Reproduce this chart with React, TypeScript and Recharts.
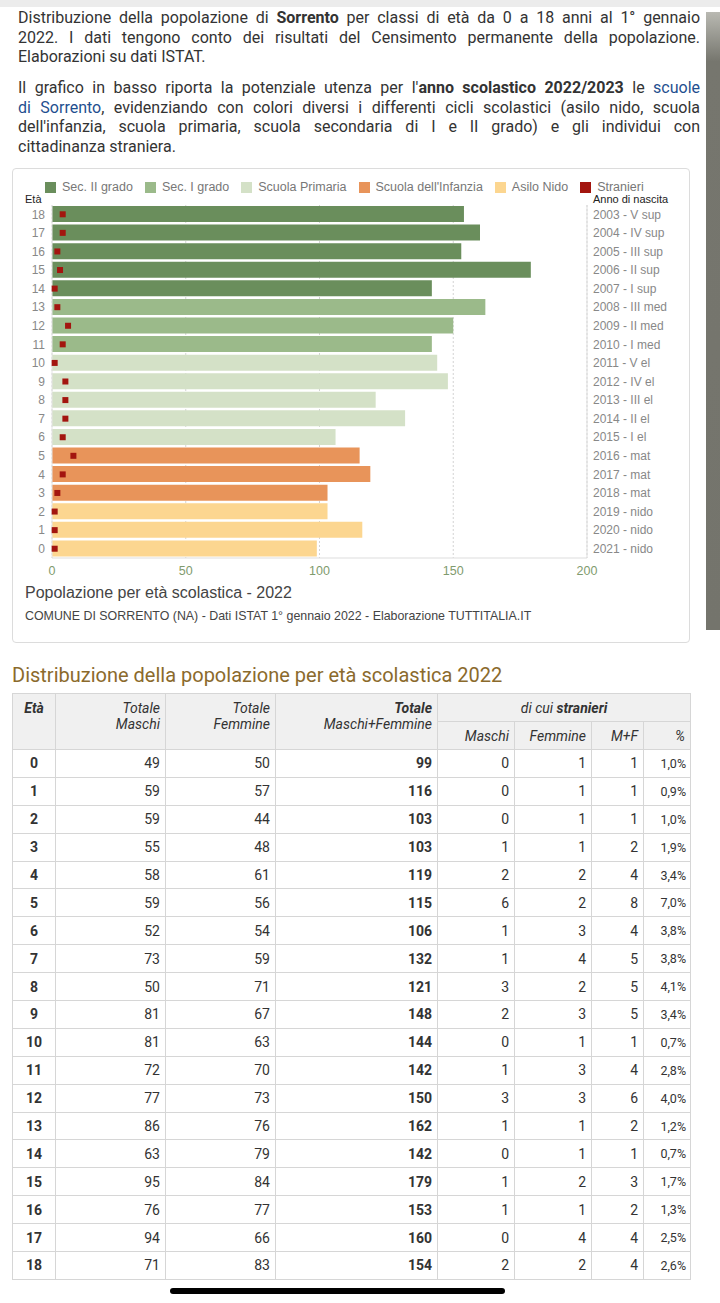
import React from "react";
import { ComposedChart, Bar, Line, XAxis, YAxis, CartesianGrid, Cell } from "recharts";

// età 0..18
const ages = [0, 1, 2, 3, 4, 5, 6, 7, 8, 9, 10, 11, 12, 13, 14, 15, 16, 17, 18];
const maschi = [49, 59, 59, 55, 58, 59, 52, 73, 50, 81, 81, 72, 77, 86, 63, 95, 76, 94, 71];
const femmine = [50, 57, 44, 48, 61, 56, 54, 59, 71, 67, 63, 70, 73, 76, 79, 84, 77, 66, 83];
const totale = [99, 116, 103, 103, 119, 115, 106, 132, 121, 148, 144, 142, 150, 162, 142, 179, 153, 160, 154];
const strMaschi = [0, 0, 0, 1, 2, 6, 1, 1, 3, 2, 0, 1, 3, 1, 0, 1, 1, 0, 2];
const strFemmine = [1, 1, 1, 1, 2, 2, 3, 4, 2, 3, 1, 3, 3, 1, 1, 2, 1, 4, 2];
const strTotale = [1, 1, 1, 2, 4, 8, 4, 5, 5, 5, 1, 4, 6, 2, 1, 3, 2, 4, 4];
const strPerc = ["1,0%", "0,9%", "1,0%", "1,9%", "3,4%", "7,0%", "3,8%", "3,8%", "4,1%", "3,4%", "0,7%", "2,8%", "4,0%", "1,2%", "0,7%", "1,7%", "1,3%", "2,5%", "2,6%"];

const birthYears = [2021, 2020, 2019, 2018, 2017, 2016, 2015, 2014, 2013, 2012, 2011, 2010, 2009, 2008, 2007, 2006, 2005, 2004, 2003];
const classi = ["nido", "nido", "nido", "mat", "mat", "mat", "I el", "II el", "III el", "IV el", "V el", "I med", "II med", "III med", "I sup", "II sup", "III sup", "IV sup", "V sup"];
const cicli = ["nido", "nido", "nido", "infanzia", "infanzia", "infanzia", "primaria", "primaria", "primaria", "primaria", "primaria", "sec1", "sec1", "sec1", "sec2", "sec2", "sec2", "sec2", "sec2"];

const xTicks = [0, 50, 100, 150, 200];

const colors: Record<string, string> = {
  sec2: "#6a8e5c",
  sec1: "#9bba8a",
  primaria: "#d4e1c7",
  infanzia: "#e8945a",
  nido: "#fcd690",
  stranieri: "#a3150f",
};

const legendItems = [
  { key: "sec2", label: "Sec. II grado" },
  { key: "sec1", label: "Sec. I grado" },
  { key: "primaria", label: "Scuola Primaria" },
  { key: "infanzia", label: "Scuola dell'Infanzia" },
  { key: "nido", label: "Asilo Nido" },
  { key: "stranieri", label: "Stranieri" },
];

const chartData = ages.map((a, i) => ({
  age: a,
  totale: totale[i],
  stranieri: strTotale[i],
  ciclo: cicli[i],
}));

const Square = (props: any) => {
  const { cx, cy, index } = props;
  if (cx == null || cy == null) return <g key={index} />;
  return <rect key={index} x={cx - 3} y={cy - 3} width={6} height={6} fill={colors.stranieri} />;
};

const pText: React.CSSProperties = {
  position: "absolute",
  left: 18,
  width: 682,
  fontFamily: "Roboto, 'Liberation Sans', sans-serif",
  fontSize: 16,
  lineHeight: "19.6px",
  color: "#333",
};
const just: React.CSSProperties = { textAlign: "justify", textAlignLast: "justify", whiteSpace: "nowrap" };
const link: React.CSSProperties = { color: "#1f4f8f" };

const border = "1px solid #d6d6d6";
const th: React.CSSProperties = {
  border,
  background: "#f0f0f0",
  fontStyle: "italic",
  fontWeight: "normal",
  fontSize: 14,
  color: "#333",
  padding: "0 5px",
  lineHeight: "16px",
};
const td: React.CSSProperties = {
  border,
  fontSize: 14,
  color: "#333",
  padding: "0 5px",
  textAlign: "right",
  height: 27.9,
  boxSizing: "border-box",
};

export default function App() {
  return (
    <div style={{ position: "absolute", left: 0, top: 0, width: 720, height: 1303, background: "#fff", overflow: "hidden" }}>
      {/* barra grigia in alto e scrollbar */}
      <div style={{ position: "absolute", left: 0, top: 0, width: 720, height: 7, background: "#ececec" }} />
      <div style={{ position: "absolute", left: 706, top: 12, width: 14, height: 618, background: "linear-gradient(#b9b9b2, #76766e 8%, #74746c)" }} />

      <div style={{ ...pText, top: 8 }}>
        <div style={just}>
          Distribuzione della popolazione di <b>Sorrento</b> per classi di età da 0 a 18 anni al 1° gennaio
        </div>
        <div style={just}>2022. I dati tengono conto dei risultati del Censimento permanente della popolazione.</div>
        <div>Elaborazioni su dati ISTAT.</div>
      </div>
      <div style={{ ...pText, top: 78 }}>
        <div style={just}>
          Il grafico in basso riporta la potenziale utenza per l'<b>anno scolastico 2022/2023</b> le <span style={link}>scuole</span>
        </div>
        <div style={just}>
          <span style={link}>di Sorrento</span>, evidenziando con colori diversi i differenti cicli scolastici (asilo nido, scuola
        </div>
        <div style={just}>dell'infanzia, scuola primaria, scuola secondaria di I e II grado) e gli individui con</div>
        <div>cittadinanza straniera.</div>
      </div>

      {/* riquadro grafico */}
      <div style={{ position: "absolute", left: 12, top: 168, width: 676, height: 473, border: "1px solid #dcdcdc", borderRadius: 4 }} />

      <div style={{ position: "absolute", left: 45, top: 180, display: "flex", gap: 12, fontFamily: "'Liberation Sans', Arial, sans-serif", fontSize: 12.5, color: "#777", whiteSpace: "nowrap" }}>
        {legendItems.map((it) => (
          <div key={it.key} style={{ display: "flex", alignItems: "center", gap: 6, height: 14 }}>
            <span style={{ width: 11, height: 11, background: colors[it.key], display: "inline-block" }} />
            <span>{it.label}</span>
          </div>
        ))}
      </div>

      <div style={{ position: "absolute", left: 25, top: 193, fontFamily: "'Liberation Sans', Arial, sans-serif", fontSize: 11, color: "#222" }}>Età</div>
      <div style={{ position: "absolute", left: 593, top: 193, fontFamily: "'Liberation Sans', Arial, sans-serif", fontSize: 11, color: "#222" }}>Anno di nascita</div>

      <div style={{ position: "absolute", left: 0, top: 160, fontFamily: "'Liberation Sans', Arial, sans-serif" }}>
        <ComposedChart layout="vertical" width={700} height={430} data={chartData} margin={{ top: 45, right: 13, bottom: 2, left: 0 }}>
          <CartesianGrid horizontal={false} strokeDasharray="2 2" stroke="#d3d3d3" />
          <XAxis
            type="number"
            domain={[0, 200]}
            ticks={xTicks}
            height={30}
            axisLine={{ stroke: "#dddddd" }}
            tickLine={false}
            tick={{ fill: "#7f9b6e", fontSize: 12.5 }}
          />
          <YAxis
            type="category"
            dataKey="age"
            reversed
            interval={0}
            width={52}
            axisLine={{ stroke: "#e4e4e4" }}
            tickLine={false}
            tickSize={5}
            tick={{ fill: "#888", fontSize: 12 }}
          />
          <YAxis
            yAxisId="right"
            orientation="right"
            type="category"
            dataKey="age"
            reversed
            interval={0}
            width={100}
            axisLine={{ stroke: "#dddddd" }}
            tickLine={false}
            tickSize={4}
            tick={{ fill: "#888", fontSize: 12 }}
            tickFormatter={(v: number) => `${birthYears[v]} - ${classi[v]}`}
          />
          <Bar dataKey="totale" barSize={16} isAnimationActive={false}>
            {chartData.map((d) => (
              <Cell key={d.age} fill={colors[d.ciclo]} />
            ))}
          </Bar>
          <Line
            yAxisId="right"
            dataKey="stranieri"
            stroke="none"
            dot={Square}
            activeDot={false}
            isAnimationActive={false}
          />
        </ComposedChart>
      </div>

      <div style={{ position: "absolute", left: 25, top: 584, fontFamily: "'Liberation Sans', Arial, sans-serif", fontSize: 16, color: "#444" }}>
        Popolazione per età scolastica - 2022
      </div>
      <div style={{ position: "absolute", left: 25, top: 609, fontFamily: "'Liberation Sans', Arial, sans-serif", fontSize: 12.4, color: "#444" }}>
        COMUNE DI SORRENTO (NA) - Dati ISTAT 1° gennaio 2022 - Elaborazione TUTTITALIA.IT
      </div>

      <div style={{ position: "absolute", left: 12, top: 663, fontFamily: "Roboto, 'Liberation Sans', sans-serif", fontSize: 20, color: "#8b6a2c" }}>
        Distribuzione della popolazione per età scolastica 2022
      </div>

      <table
        style={{
          position: "absolute",
          left: 12,
          top: 693,
          width: 678,
          borderCollapse: "collapse",
          tableLayout: "fixed",
          fontFamily: "Roboto, 'Liberation Sans', sans-serif",
          border: "1px solid #cfcfcf",
        }}
      >
        <colgroup>
          <col style={{ width: 43 }} />
          <col style={{ width: 110 }} />
          <col style={{ width: 110 }} />
          <col style={{ width: 162 }} />
          <col style={{ width: 77 }} />
          <col style={{ width: 77 }} />
          <col style={{ width: 52 }} />
          <col style={{ width: 47 }} />
        </colgroup>
        <thead>
          <tr style={{ height: 28 }}>
            <th rowSpan={2} style={{ ...th, fontWeight: "bold", textAlign: "center", verticalAlign: "top", paddingTop: 6 }}>Età</th>
            <th rowSpan={2} style={{ ...th, textAlign: "right", verticalAlign: "top", paddingTop: 6 }}>Totale<br />Maschi</th>
            <th rowSpan={2} style={{ ...th, textAlign: "right", verticalAlign: "top", paddingTop: 6 }}>Totale<br />Femmine</th>
            <th rowSpan={2} style={{ ...th, textAlign: "right", verticalAlign: "top", paddingTop: 6 }}><b>Totale</b><br />Maschi+Femmine</th>
            <th colSpan={4} style={{ ...th, textAlign: "center" }}>di cui <b>stranieri</b></th>
          </tr>
          <tr style={{ height: 28 }}>
            <th style={{ ...th, textAlign: "right" }}>Maschi</th>
            <th style={{ ...th, textAlign: "right" }}>Femmine</th>
            <th style={{ ...th, textAlign: "right" }}>M+F</th>
            <th style={{ ...th, textAlign: "right" }}>%</th>
          </tr>
        </thead>
        <tbody>
          {ages.map((a, i) => (
            <tr key={a}>
              <td style={{ ...td, textAlign: "center", fontWeight: "bold" }}>{a}</td>
              <td style={td}>{maschi[i]}</td>
              <td style={td}>{femmine[i]}</td>
              <td style={{ ...td, fontWeight: "bold" }}>{totale[i]}</td>
              <td style={td}>{strMaschi[i]}</td>
              <td style={td}>{strFemmine[i]}</td>
              <td style={td}>{strTotale[i]}</td>
              <td style={{ ...td, fontSize: 12.5, paddingRight: 4 }}>{strPerc[i]}</td>
            </tr>
          ))}
        </tbody>
      </table>

      <div style={{ position: "absolute", left: 170, top: 1288, width: 335, height: 6, borderRadius: 3, background: "#000" }} />
    </div>
  );
}
